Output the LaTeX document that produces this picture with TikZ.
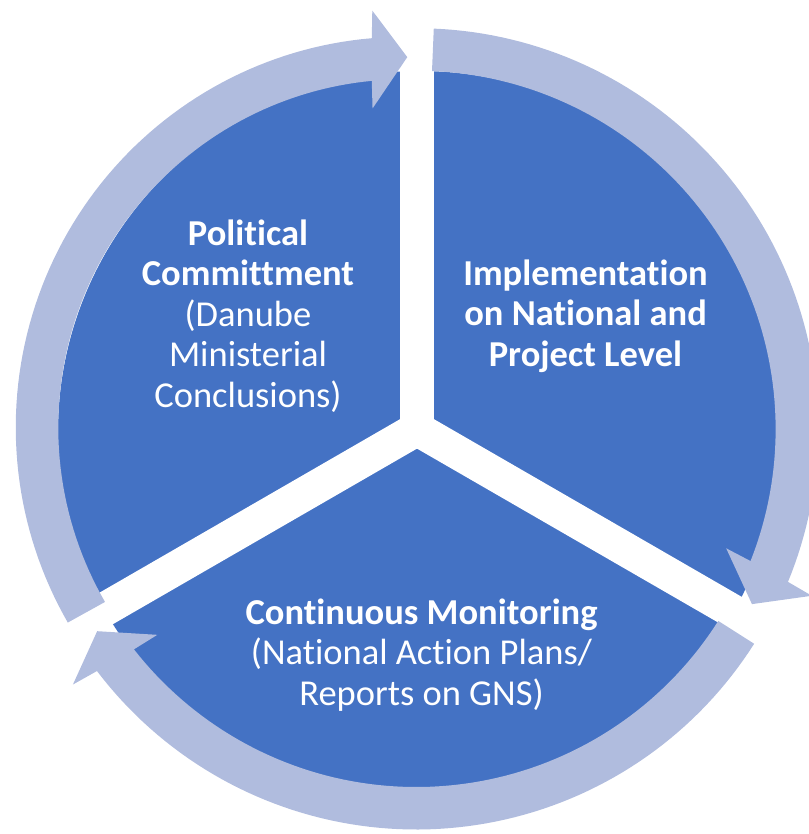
\documentclass[tikz,border=0pt]{standalone}
\usepackage{fontspec}
\setmainfont{Carlito}[Ligatures={NoCommon,NoRequired,NoContextual},RawFeature={-liga;-clig;-dlig;-calt}]
\definecolor{piefill}{RGB}{68,114,196}
\definecolor{ringfill}{RGB}{176,188,222}
\tikzset{
  gapline/.style={draw=white, line width=34pt},
  lbl/.style={text=white, align=center, font=\fontsize{36.5}{40.5}\selectfont, inner sep=0pt},
}
% #1 tail angle, #2 head-back angle, #3 tip angle, #4 mid radius as a function of \x, #5 mid radius at head, #6 tip radius
\newcommand\RingArrow[6]{%
  \fill[ringfill] plot[domain=#1:#2-0.4,samples=80] (\x:{#4+21.25})
    -- ({#2-0.9}:{#5+48.6}) -- (#3:#6) -- ({#2+0.9}:{#5-48.6})
    -- plot[domain=#2+0.4:#1,samples=80] (\x:{#4-21.25}) -- cycle;}
\begin{document}
\begin{tikzpicture}[x=1pt,y=1pt]
\useasboundingbox (0,0) rectangle (808,834);
\coordinate (P) at (419.5,401.5);
\coordinate (Y) at (417,405);
\fill[piefill] (P) circle[radius=361.5];
\draw[gapline] (Y) -- ++(90:375);
\draw[gapline] (Y) -- ++(210:375);
\draw[gapline] (Y) -- ++(330:375);
\begin{scope}[shift={(Y)}]
  \RingArrow{87.6}{-22}{-27.6}{(379.5+0.5*(\x-87.6)/(-109.6))}{380}{378}
  \RingArrow{-32.5}{-142.5}{-147.7}{(378.5+1.5*(\x+32.5)/(-110))}{380}{378.4}
  \RingArrow{209}{97}{91.5}{(380-0.02678*(\x-180)-0.001455*(\x-180)*(\x-180))}{372.2}{372}
\end{scope}
\node[lbl] (political) at (248,518) {\textbf{Political}\\\textbf{Committment}\\(Danube\\Ministerial\\Conclusions)};
\node[lbl] (implementation) at (585.5,518) {\textbf{Implementation}\\\textbf{on National and}\\\textbf{Project Level}};
\node[lbl] (monitoring) at (421.5,179.3) {\textbf{Continuous Monitoring}\\(National Action Plans/\\Reports on GNS)};
\end{tikzpicture}
\end{document}
